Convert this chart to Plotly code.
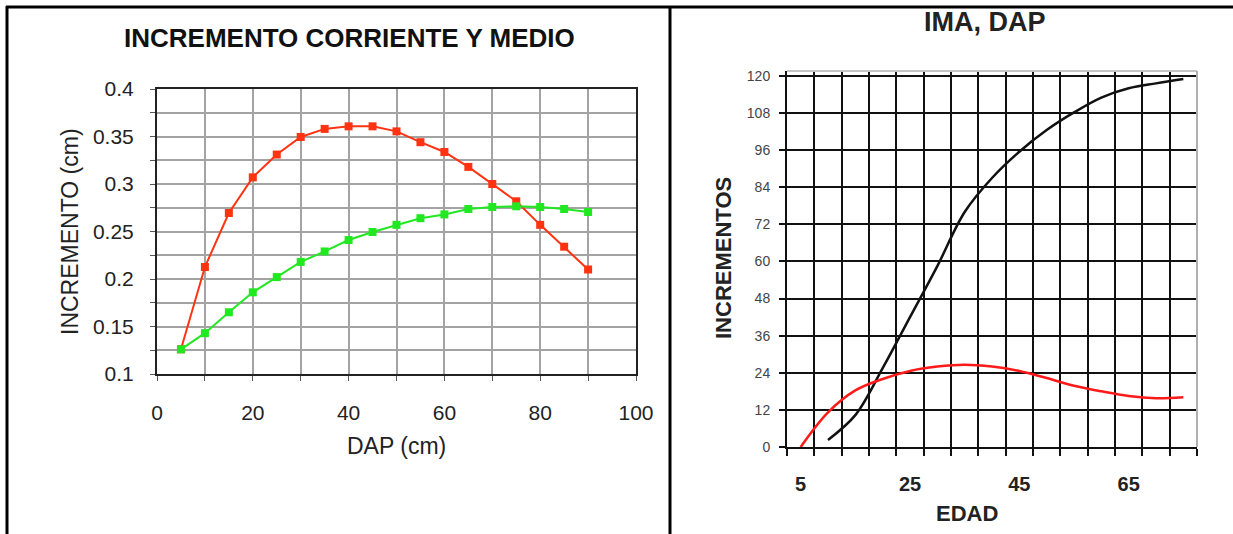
import plotly.graph_objects as go

# ---------------- data ----------------
# Left chart: Incremento corriente y medio vs DAP
dap_cm = [5, 10, 15, 20, 25, 30, 35, 40, 45, 50, 55, 60, 65, 70, 75, 80, 85, 90]
inc_corriente = [0.126, 0.2126, 0.2695, 0.307, 0.331, 0.3495, 0.358, 0.3607, 0.3607,
                 0.3554, 0.344, 0.3337, 0.318, 0.300, 0.2818, 0.257, 0.234, 0.210]
inc_medio = [0.126, 0.143, 0.165, 0.186, 0.202, 0.218, 0.229, 0.241, 0.2495,
             0.257, 0.264, 0.268, 0.2737, 0.2758, 0.2765, 0.2758, 0.2737, 0.2705]
left_y_ticks = [0.1, 0.15, 0.2, 0.25, 0.3, 0.35, 0.4]
left_y_labels = ["0.1", "0.15", "0.2", "0.25", "0.3", "0.35", "0.4"]
left_x_ticks = [0, 20, 40, 60, 80, 100]
left_x_labels = ["0", "20", "40", "60", "80", "100"]

# Right chart: IMA, DAP vs EDAD
edad_ima = [5, 10, 15, 20, 25, 30, 35, 40, 45, 50, 55, 60, 65, 70, 75]
ima = [0, 11.2, 18.3, 22, 24.6, 26.0, 26.6, 26.0, 24.6, 22.3, 19.8, 18, 16.5, 15.8, 16.1]
edad_dap = [10, 15, 20, 25, 30, 35, 40, 45, 50, 55, 60, 65, 70, 75]
dap_acum = [2.3, 10.3, 25.5, 42, 58.5, 76, 87, 95.5, 102.5, 108.2, 113, 116, 117.6, 119]
right_x_ticks = [5, 25, 45, 65]
right_x_labels = ["5", "25", "45", "65"]
right_y_ticks = [0, 12, 24, 36, 48, 60, 72, 84, 96, 108, 120]
right_y_labels = [str(v) for v in right_y_ticks]

# ---------------- layout helpers ----------------
W, H = 1233, 534
def px(x):
    return x / W
def py(y):
    return 1 - y / H

RED_L = "#ff3311"
GREEN_L = "#22e822"

fig = go.Figure()

fig.add_trace(go.Scatter(
    x=dap_cm, y=inc_corriente, mode="lines+markers",
    line=dict(color=RED_L, width=2),
    marker=dict(symbol="square", size=8, color=RED_L),
    xaxis="x", yaxis="y", showlegend=False, cliponaxis=False))
fig.add_trace(go.Scatter(
    x=dap_cm, y=inc_medio, mode="lines+markers",
    line=dict(color=GREEN_L, width=2),
    marker=dict(symbol="square", size=8, color=GREEN_L),
    xaxis="x", yaxis="y", showlegend=False, cliponaxis=False))

fig.add_trace(go.Scatter(
    x=edad_dap, y=dap_acum, mode="lines",
    line=dict(color="#111111", width=2.5, shape="spline", smoothing=1.0),
    xaxis="x2", yaxis="y2", showlegend=False))
fig.add_trace(go.Scatter(
    x=edad_ima, y=ima, mode="lines",
    line=dict(color="#ff1a1a", width=2.5, shape="spline", smoothing=1.0),
    xaxis="x2", yaxis="y2", showlegend=False))

GRID_L = "#a3a3a3"
left_font = dict(family="Liberation Sans, Arial, sans-serif", size=21, color="#222222")

fig.update_layout(
    width=W, height=H, autosize=False,
    margin=dict(l=0, r=0, t=0, b=0, pad=0, autoexpand=False),
    paper_bgcolor="white", plot_bgcolor="white",
    xaxis=dict(
        domain=[px(157), px(636)], anchor="y", automargin=False,
        range=[0, 100], tickmode="array", tickvals=left_x_ticks, ticktext=left_x_labels,
        showgrid=True, gridcolor=GRID_L, gridwidth=2,
        ticks="outside", ticklen=5, tickcolor="#555555", tickwidth=1,
        minor=dict(tickmode="linear", tick0=0, dtick=10, showgrid=True, gridcolor=GRID_L,
                   gridwidth=2, ticks="outside", ticklen=5, tickcolor="#555555"),
        showline=True, linecolor="#222222", linewidth=2, mirror=True,
        zeroline=False, tickfont=left_font, ticklabelstandoff=14,
    ),
    yaxis=dict(
        domain=[py(374), py(89)], anchor="x", automargin=False,
        range=[0.1, 0.4], tickmode="array", tickvals=left_y_ticks, ticktext=left_y_labels,
        showgrid=True, gridcolor=GRID_L, gridwidth=2,
        ticks="outside", ticklen=5, tickcolor="#555555", tickwidth=1,
        minor=dict(tickmode="linear", tick0=0.1, dtick=0.025, showgrid=True, gridcolor=GRID_L,
                   gridwidth=2, ticks="outside", ticklen=5, tickcolor="#555555"),
        showline=True, linecolor="#222222", linewidth=2, mirror=True,
        zeroline=False, tickfont=left_font, ticklabelstandoff=12,
    ),
    xaxis2=dict(
        domain=[px(787), px(1197)], anchor="y2", automargin=False,
        range=[2.5, 77.5], tickmode="array", tickvals=right_x_ticks, ticktext=right_x_labels,
        showgrid=False, ticks="",
        minor=dict(tickmode="linear", tick0=2.5, dtick=5, showgrid=True, gridcolor="#111111",
                   gridwidth=2, ticks="outside", ticklen=7, tickcolor="#111111", tickwidth=2),
        showline=True, linecolor="#111111", linewidth=2,
        zeroline=False, ticklabelstandoff=18,
        tickfont=dict(family="Liberation Sans, Arial, sans-serif", size=20, color="#222222",
                      weight="bold"),
    ),
    yaxis2=dict(
        domain=[py(447), py(71)], anchor="x2", automargin=False,
        range=[0, 121.6], tickmode="array", tickvals=right_y_ticks, ticktext=right_y_labels,
        showgrid=True, gridcolor="#111111", gridwidth=2,
        ticks="outside", ticklen=6, tickcolor="#111111", tickwidth=2,
        showline=True, linecolor="#111111", linewidth=2,
        zeroline=False, ticklabelstandoff=6,
        tickfont=dict(family="Liberation Sans, Arial, sans-serif", size=14, color="#444444"),
    ),
)

# frame lines of the surrounding table
frame = dict(color="black", width=3)
fig.add_shape(type="line", xref="paper", yref="paper", x0=px(6), x1=1, y0=py(7), y1=py(7), line=frame)
fig.add_shape(type="line", xref="paper", yref="paper", x0=px(7), x1=px(7), y0=py(6), y1=0, line=frame)
fig.add_shape(type="line", xref="paper", yref="paper", x0=px(670), x1=px(670), y0=py(6), y1=0, line=frame)
# light border of right plot (top & right)
fig.add_shape(type="line", xref="paper", yref="paper", x0=px(787), x1=px(1197), y0=py(71), y1=py(71),
              line=dict(color="#c4c4c4", width=2), layer="above")
fig.add_shape(type="line", xref="paper", yref="paper", x0=px(1197), x1=px(1197), y0=py(71), y1=py(447),
              line=dict(color="#b0b0b0", width=2), layer="above")

# titles as annotations
fig.add_annotation(text="<b>INCREMENTO CORRIENTE Y MEDIO</b>", xref="paper", yref="paper",
                   x=px(349), y=py(38), showarrow=False, xanchor="center", yanchor="middle",
                   font=dict(family="Liberation Sans, Arial, sans-serif", size=26, color="#111111"))
fig.add_annotation(text="INCREMENTO (cm)", xref="paper", yref="paper", textangle=-90,
                   x=px(70), y=py(232), showarrow=False, xanchor="center", yanchor="middle",
                   font=dict(family="Liberation Sans, Arial, sans-serif", size=23, color="#222222"))
fig.add_annotation(text="DAP (cm)", xref="paper", yref="paper",
                   x=px(396), y=py(446), showarrow=False, xanchor="center", yanchor="middle",
                   font=dict(family="Liberation Sans, Arial, sans-serif", size=23, color="#222222"))
fig.add_annotation(text="<b>IMA, DAP</b>", xref="paper", yref="paper",
                   x=px(985), y=py(22), showarrow=False, xanchor="center", yanchor="middle",
                   font=dict(family="Liberation Sans, Arial, sans-serif", size=27, color="#222222"))
fig.add_annotation(text="<b>INCREMENTOS</b>", xref="paper", yref="paper", textangle=-90,
                   x=px(723), y=py(258), showarrow=False, xanchor="center", yanchor="middle",
                   font=dict(family="Liberation Sans, Arial, sans-serif", size=22, color="#222222"))
fig.add_annotation(text="<b>EDAD</b>", xref="paper", yref="paper",
                   x=px(967), y=py(513), showarrow=False, xanchor="center", yanchor="middle",
                   font=dict(family="Liberation Sans, Arial, sans-serif", size=22, color="#222222"))

fig.write_html("out.html", config={"displayModeBar": False},
               post_script="document.body.style.margin='0';document.body.style.overflow='hidden';")
